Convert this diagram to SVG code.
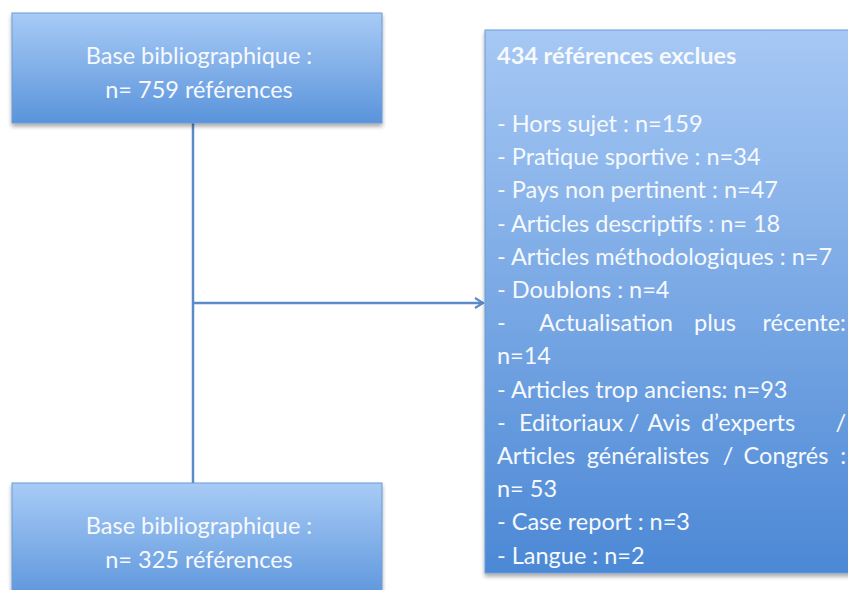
<svg xmlns="http://www.w3.org/2000/svg" width="848" height="590" viewBox="0 0 848 590">
  <defs>
    <linearGradient id="gradSmall" x1="0" y1="0" x2="0" y2="1">
      <stop offset="0" stop-color="#a8cbf6"/>
      <stop offset="1" stop-color="#5a94db"/>
    </linearGradient>
    <linearGradient id="gradBig" x1="0" y1="0" x2="0" y2="1">
      <stop offset="0" stop-color="#a6c8f4"/>
      <stop offset="1" stop-color="#4c88d5"/>
    </linearGradient>
    <filter id="shadow" x="-5%" y="-5%" width="110%" height="115%">
      <feGaussianBlur in="SourceAlpha" stdDeviation="2"/>
      <feOffset dx="0" dy="3" result="b"/>
      <feComponentTransfer><feFuncA type="linear" slope="0.35"/></feComponentTransfer>
      <feMerge><feMergeNode/><feMergeNode in="SourceGraphic"/></feMerge>
    </filter>
    <marker id="arrow" viewBox="0 0 12 12" refX="10" refY="6" markerWidth="12" markerHeight="12" markerUnits="userSpaceOnUse" orient="auto">
      <path d="M2,1 L10,6 L2,11" fill="none" stroke="#5b8bc8" stroke-width="2.2"/>
    </marker>
  </defs>
  <style>
    .box { stroke: #6b9bd6; stroke-width: 1; filter: url(#shadow); }
    .t { font-family: Lato, "Open Sans", "Liberation Sans", sans-serif; font-size: 23.5px; fill: #f6f9fd; }
    .c { text-anchor: middle; }
    .b { font-weight: bold; }
    .m { text-anchor: middle; }
    .e { text-anchor: end; }
    .conn { stroke: #5b8bc8; stroke-width: 2.5; fill: none; }
  </style>
  <rect width="848" height="590" fill="#ffffff"/>

  <g id="connectors">
    <line class="conn" x1="193" y1="123" x2="193" y2="483"/>
    <line class="conn" x1="193" y1="303" x2="483" y2="303" marker-end="url(#arrow)"/>
  </g>

  <g id="node-top">
    <rect class="box" x="12" y="13" width="370" height="110" fill="url(#gradSmall)"/>
    <text class="t c" x="199" y="64">Base bibliographique :</text>
    <text class="t c" x="199" y="98">n= 759 références</text>
  </g>

  <g id="node-bottom">
    <rect class="box" x="12" y="483" width="370" height="120" fill="url(#gradSmall)"/>
    <text class="t c" x="199" y="534">Base bibliographique :</text>
    <text class="t c" x="199" y="568">n= 325 références</text>
  </g>

  <g id="node-excluded">
    <rect class="box" x="485" y="30" width="380" height="543" fill="url(#gradBig)"/>
    <text class="t b" x="497" y="64">434 références exclues</text>
    <text class="t" x="497" y="132">- Hors sujet : n=159</text>
    <text class="t" x="497" y="165">- Pratique sportive : n=34</text>
    <text class="t" x="497" y="198">- Pays non pertinent : n=47</text>
    <text class="t" x="497" y="232">- Articles descriptifs : n= 18</text>
    <text class="t" x="497" y="265">- Articles méthodologiques : n=7</text>
    <text class="t" x="497" y="298">- Doublons : n=4</text>
    <text class="t" y="331"><tspan x="497">-</tspan><tspan class="m" x="606">Actualisation</tspan><tspan class="m" x="715">plus</tspan><tspan class="e" x="846">récente:</tspan></text>
    <text class="t" x="497" y="364">n=14</text>
    <text class="t" x="497" y="398">- Articles trop anciens: n=93</text>
    <text class="t" y="431"><tspan x="497">-</tspan><tspan class="m" x="571">Editoriaux</tspan><tspan class="m" x="634">/</tspan><tspan class="m" x="669">Avis</tspan><tspan class="m" x="748">d’experts</tspan><tspan class="e" x="846">/</tspan></text>
    <text class="t" y="464"><tspan x="497">Articles</tspan><tspan class="m" x="648">généralistes</tspan><tspan class="m" x="728">/</tspan><tspan class="m" x="786">Congrés</tspan><tspan class="e" x="846">:</tspan></text>
    <text class="t" x="497" y="497">n= 53</text>
    <text class="t" x="497" y="530">- Case report : n=3</text>
    <text class="t" x="497" y="564">- Langue : n=2</text>
  </g>
</svg>
